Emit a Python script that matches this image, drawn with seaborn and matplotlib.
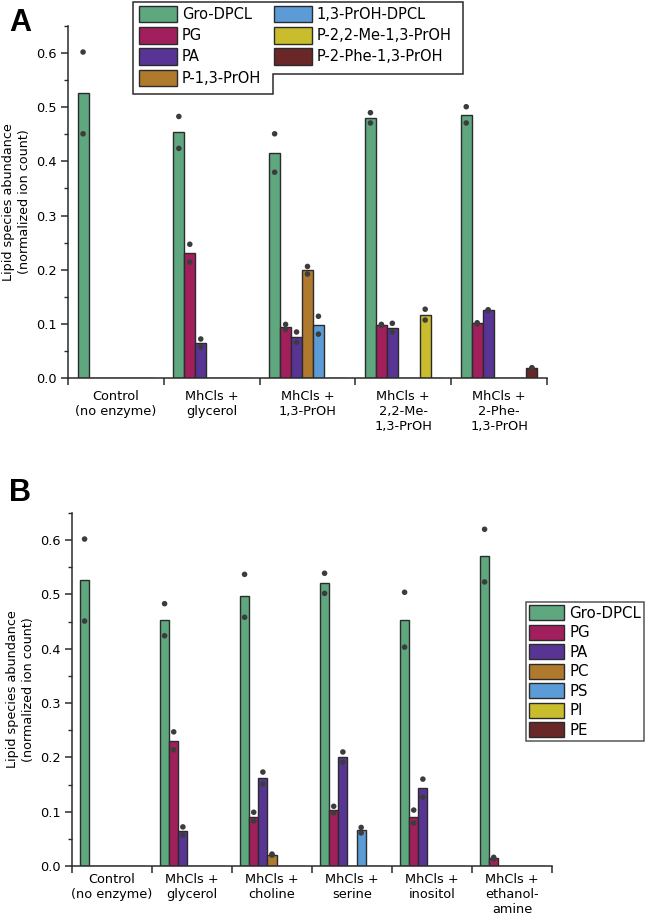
import numpy as np
import pandas as pd
import matplotlib
matplotlib.use("Agg")
import matplotlib.pyplot as plt
from matplotlib.patches import Patch, Polygon
from matplotlib.ticker import MultipleLocator, FixedLocator
import seaborn as sns

# ---- data (two replicates per condition) ----
cats_a = ["Control\n(no enzyme)", "MhCls +\nglycerol", "MhCls +\n1,3-PrOH",
          "MhCls +\n2,2-Me-\n1,3-PrOH", "MhCls +\n2-Phe-\n1,3-PrOH"]
species_a = ["Gro-DPCL", "PG", "PA", "P-1,3-PrOH", "1,3-PrOH-DPCL",
             "P-2,2-Me-1,3-PrOH", "P-2-Phe-1,3-PrOH"]
rep1_a = [[0.602, 0.0, 0.0, 0.0, 0.0, 0.0, 0.0],
          [0.483, 0.247, 0.072, 0.0, 0.0, 0.0, 0.0],
          [0.451, 0.099, 0.085, 0.206, 0.114, 0.0, 0.0],
          [0.490, 0.099, 0.101, 0.0, 0.0, 0.127, 0.0],
          [0.501, 0.102, 0.126, 0.0, 0.0, 0.0, 0.019]]
rep2_a = [[0.451, 0.0, 0.0, 0.0, 0.0, 0.0, 0.0],
          [0.424, 0.214, 0.057, 0.0, 0.0, 0.0, 0.0],
          [0.380, 0.090, 0.066, 0.192, 0.081, 0.0, 0.0],
          [0.471, 0.097, 0.085, 0.0, 0.0, 0.107, 0.0],
          [0.471, 0.100, 0.125, 0.0, 0.0, 0.0, 0.018]]

cats_b = ["Control\n(no enzyme)", "MhCls +\nglycerol", "MhCls +\ncholine",
          "MhCls +\nserine", "MhCls +\ninositol", "MhCls +\nethanol-\namine"]
species_b = ["Gro-DPCL", "PG", "PA", "PC", "PS", "PI", "PE"]
rep1_b = [[0.602, 0.0, 0.0, 0.0, 0.0, 0.0, 0.0],
          [0.483, 0.247, 0.072, 0.0, 0.0, 0.0, 0.0],
          [0.537, 0.099, 0.173, 0.022, 0.0, 0.0, 0.0],
          [0.539, 0.110, 0.210, 0.0, 0.071, 0.0, 0.0],
          [0.504, 0.103, 0.160, 0.0, 0.0, 0.0, 0.0],
          [0.620, 0.016, 0.0, 0.0, 0.0, 0.0, 0.0]]
rep2_b = [[0.451, 0.0, 0.0, 0.0, 0.0, 0.0, 0.0],
          [0.424, 0.214, 0.057, 0.0, 0.0, 0.0, 0.0],
          [0.458, 0.083, 0.151, 0.020, 0.0, 0.0, 0.0],
          [0.502, 0.098, 0.191, 0.0, 0.061, 0.0, 0.0],
          [0.403, 0.079, 0.127, 0.0, 0.0, 0.0, 0.0],
          [0.523, 0.013, 0.0, 0.0, 0.0, 0.0, 0.0]]

colors = ["#5ea77f", "#a21f5d", "#583595", "#b07a2e", "#5b9bd6", "#c9bd2e", "#6a2727"]
edge = "#2b2b2b"
dot = "#3c3c3c"


def long_df(cats, species, reps):
    rows = []
    for rep in reps:
        for i, c in enumerate(cats):
            for j, s in enumerate(species):
                rows.append({"cond": c, "species": s, "value": rep[i][j]})
    return pd.DataFrame(rows)


sns.set_style("ticks")
plt.rcParams["font.family"] = ["DejaVu Sans"]
plt.rcParams["text.color"] = "black"
plt.rcParams["axes.labelcolor"] = "black"

fig = plt.figure(figsize=(6.47, 9.17), dpi=100)
ax_a = fig.add_axes([0.1051, 0.5878, 0.7403, 0.3838])
ax_b = fig.add_axes([0.1113, 0.0556, 0.7419, 0.3850])


def draw_panel(ax, cats, species, r1, r2, xpad):
    df = long_df(cats, species, [r1, r2])
    pal = dict(zip(species, colors))
    sns.barplot(data=df, x="cond", y="value", hue="species", order=cats,
                hue_order=species, palette=pal, saturation=1, errorbar=None,
                width=0.8, edgecolor=edge, linewidth=1.0, legend=False, ax=ax)
    pts = df[df["value"] > 0]
    sns.stripplot(data=pts, x="cond", y="value", hue="species", order=cats,
                  hue_order=species, palette={s: dot for s in species},
                  dodge=True, jitter=False, size=4, linewidth=0,
                  legend=False, ax=ax, zorder=5)
    n = len(cats)
    ax.set_xlim(-0.5, n - 0.5)
    ax.set_ylim(0, 0.65)
    ax.yaxis.set_major_locator(MultipleLocator(0.1))
    ax.yaxis.set_minor_locator(MultipleLocator(0.05))
    ax.set_yticklabels([f"{v:.1f}" for v in ax.get_yticks()])
    ax.xaxis.set_minor_locator(FixedLocator(np.arange(n + 1) - 0.5))
    ax.tick_params(axis="x", which="major", length=0, pad=xpad, labelsize=9.3,
                   labelcolor="black")
    ax.tick_params(axis="x", which="minor", length=5, width=1.1, color=edge)
    ax.tick_params(axis="y", which="major", length=5, width=1.1, color=edge,
                   labelsize=9.3, pad=3, labelcolor="black")
    ax.tick_params(axis="y", which="minor", length=3, width=1.0, color=edge)
    ax.set_xlabel("")
    ax.set_ylabel("Lipid species abundance\n(normalized ion count)",
                  fontsize=9.2, labelpad=4, linespacing=1.3)
    sns.despine(ax=ax)
    for s in ["left", "bottom"]:
        ax.spines[s].set_color(edge)
        ax.spines[s].set_linewidth(1.1)
    return [Patch(facecolor=colors[i], edgecolor=edge, linewidth=1.0, label=s)
            for i, s in enumerate(species)]


handles_a = draw_panel(ax_a, cats_a, species_a, rep1_a, rep2_a, 9)
handles_b = draw_panel(ax_b, cats_b, species_b, rep1_b, rep2_b, 5)

# panel A legend: two columns, stepped outline
W, H = 647, 917
fig.legend(handles=handles_a, loc="upper left", bbox_to_anchor=(139 / W, 1 - 6 / H),
           ncol=2, frameon=False, fontsize=10.5, handlelength=2.6,
           handleheight=1.35, labelspacing=0.33, handletextpad=0.35,
           columnspacing=0.85, borderpad=0.0, borderaxespad=0.0)
outline = [(133, 2), (463, 2), (463, 74), (273, 74), (273, 94), (133, 94)]
fig.patches.append(Polygon([(x / W, 1 - y / H) for x, y in outline], closed=True,
                           fill=False, edgecolor=edge, linewidth=1.1,
                           transform=fig.transFigure, figure=fig))

# panel B legend
leg_b = fig.legend(handles=handles_b, loc="upper left",
                   bbox_to_anchor=(526 / W, 1 - 602 / H), ncol=1, fontsize=10.8,
                   handlelength=2.35, handleheight=1.2, labelspacing=0.25,
                   handletextpad=0.35, borderpad=0.2, borderaxespad=0.0,
                   fancybox=False)
leg_b.get_frame().set_edgecolor(edge)
leg_b.get_frame().set_linewidth(1.1)

fig.text(9 / W, 1 - 31 / H, "A", fontsize=22, fontweight="bold", color="black",
         family=["Liberation Sans", "DejaVu Sans"])
fig.text(9 / W, 1 - 501 / H, "B", fontsize=22, fontweight="bold", color="black",
         family=["Liberation Sans", "DejaVu Sans"])

fig.savefig("out.png", dpi=100)
